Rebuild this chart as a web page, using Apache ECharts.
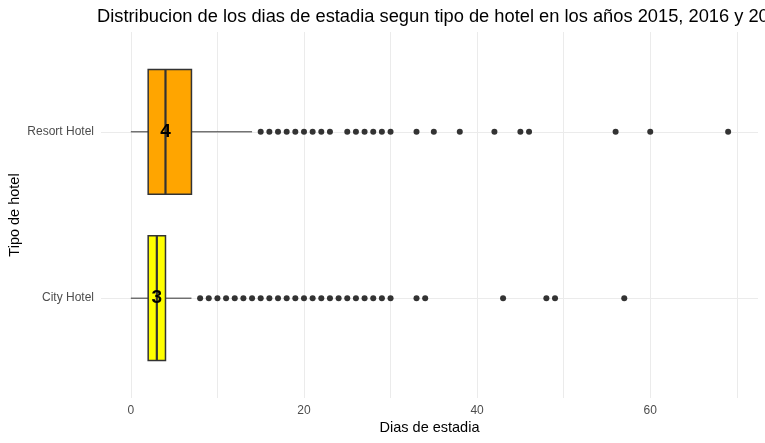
<!DOCTYPE html>
<html>
<head>
<meta charset="utf-8">
<script src="https://cdn.jsdelivr.net/npm/echarts@6/dist/echarts.min.js"></script>
<style>html,body{margin:0;padding:0;background:#fff}#c{width:765px;height:443px}</style>
</head>
<body>
<div id="c"></div>
<script>
// ---- data ----
var hotels = ['City Hotel', 'Resort Hotel'];
// [whiskerLow, Q1, median, Q3, whiskerHigh]
var cityStats = [0, 2, 3, 4, 7];
var resortStats = [0, 2, 4, 7, 14];
var cityOutliers = [8,9,10,11,12,13,14,15,16,17,18,19,20,21,22,23,24,25,26,27,28,29,30,33,34,43,48,49,57];
var resortOutliers = [15,16,17,18,19,20,21,22,23,25,26,27,28,29,30,33,35,38,42,45,46,56,60,69];
var boxColors = ['#FFFF00', '#FFA500'];
var xTicks = [0, 20, 40, 60];
var xGrid = [0, 10, 20, 30, 40, 50, 60, 70];
var titleText = 'Distribucion de los dias de estadia segun tipo de hotel en los años 2015, 2016 y 2017';

var stats = [cityStats, resortStats];
var outliers = [cityOutliers, resortOutliers];
var yPos = [1, 2];

var boxData = stats.map(function (s, i) { return [yPos[i]].concat(s).concat([i]); });
var outData = [];
outliers.forEach(function (arr, i) { arr.forEach(function (v) { outData.push([v, yPos[i]]); }); });
var medData = stats.map(function (s, i) { return [s[2], yPos[i]]; });

var font = '"Liberation Sans", Arial, sans-serif';
var chart = echarts.init(document.getElementById('c'), null, {renderer: 'canvas'});
chart.setOption({
  animation: false,
  backgroundColor: '#fff',
  title: {
    text: titleText, left: 92, top: 3,
    textStyle: {fontFamily: font, fontSize: 18.3, fontWeight: 'normal', color: '#000'}
  },
  grid: {left: 101, right: 7, top: 32, bottom: 45, containLabel: false, outerBoundsMode: 'none'},
  xAxis: {
    type: 'value', min: -3.45, max: 72.45,
    name: 'Dias de estadia', nameLocation: 'middle', nameGap: 22, nameMoveOverlap: false,
    nameTextStyle: {fontFamily: font, fontSize: 14.5, color: '#000'},
    axisLine: {show: false}, axisTick: {show: false, customValues: xGrid},
    axisLabel: {customValues: xTicks, margin: 7, fontFamily: font, fontSize: 12, color: '#4D4D4D'},
    splitLine: {show: true, lineStyle: {color: '#EBEBEB', width: 1}}
  },
  yAxis: {
    type: 'value', min: 0.4, max: 2.6,
    name: 'Tipo de hotel', nameLocation: 'middle', nameGap: 79, nameMoveOverlap: false,
    nameTextStyle: {fontFamily: font, fontSize: 14.5, color: '#000'},
    axisLine: {show: false}, axisTick: {show: false, customValues: yPos},
    axisLabel: {
      customValues: yPos, margin: 7, fontFamily: font, fontSize: 12, color: '#4D4D4D',
      formatter: function (v) { var i = yPos.indexOf(v); return i >= 0 ? hotels[i] : ''; }
    },
    splitLine: {show: true, lineStyle: {color: '#EBEBEB', width: 1}}
  },
  series: [
    {
      type: 'custom',
      data: boxData,
      encode: {x: [1, 2, 3, 4, 5], y: 0},
      renderItem: function (params, api) {
        var y = api.value(0);
        var lo = api.coord([api.value(1), y]);
        var q1 = api.coord([api.value(2), y]);
        var md = api.coord([api.value(3), y]);
        var q3 = api.coord([api.value(4), y]);
        var hi = api.coord([api.value(5), y]);
        var h = api.size([0, 0.75])[1];
        var idx = api.value(6);
        var line = {stroke: '#333333', lineWidth: 1};
        return {
          type: 'group',
          children: [
            {type: 'line', shape: {x1: lo[0], y1: lo[1], x2: q1[0], y2: q1[1]}, style: line},
            {type: 'line', shape: {x1: q3[0], y1: q3[1], x2: hi[0], y2: hi[1]}, style: line},
            {type: 'rect', shape: {x: q1[0], y: q1[1] - h / 2, width: q3[0] - q1[0], height: h},
             style: {fill: boxColors[idx], stroke: '#333333', lineWidth: 1.5}},
            {type: 'line', shape: {x1: md[0], y1: md[1] - h / 2, x2: md[0], y2: md[1] + h / 2},
             style: {stroke: '#333333', lineWidth: 2.2}}
          ]
        };
      }
    },
    {
      type: 'scatter', data: outData, symbol: 'circle', symbolSize: 6,
      itemStyle: {color: '#333333', opacity: 1}
    },
    {
      type: 'scatter', data: medData, symbolSize: 0,
      itemStyle: {opacity: 1},
      label: {
        show: true, position: 'inside', formatter: function (p) { return String(p.value[0]); },
        fontFamily: font, fontSize: 19, fontWeight: 'bold', color: '#000', opacity: 1
      }
    }
  ]
});
</script>
</body>
</html>
